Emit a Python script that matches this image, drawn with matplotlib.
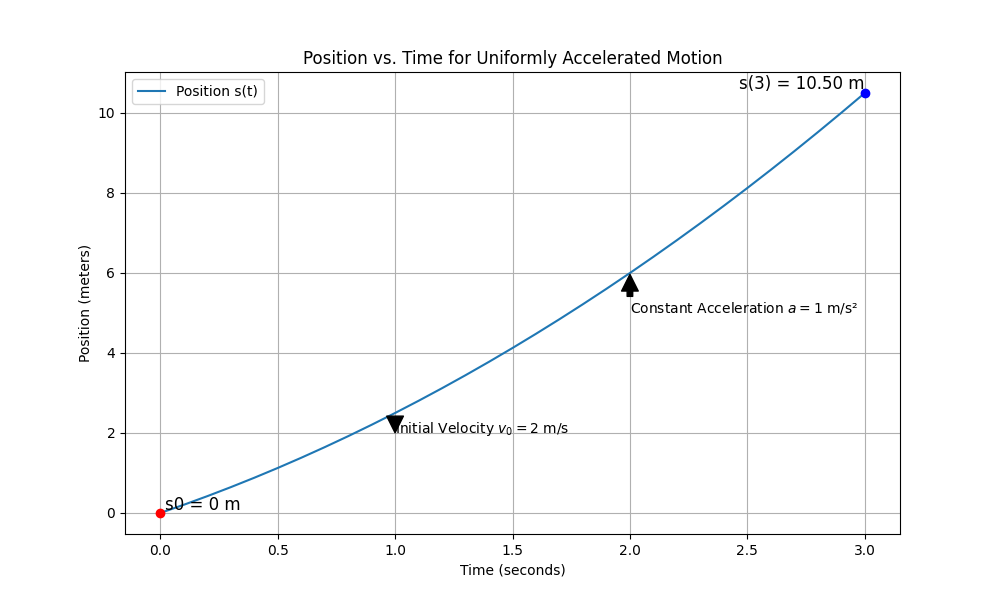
import numpy as np
import matplotlib
matplotlib.use('Agg')
import matplotlib.pyplot as plt

# time (s) and position (m)
t = [0.0, 0.1, 0.2, 0.3, 0.4, 0.5, 0.6, 0.7, 0.8, 0.9, 1.0,
     1.1, 1.2, 1.3, 1.4, 1.5, 1.6, 1.7, 1.8, 1.9, 2.0,
     2.1, 2.2, 2.3, 2.4, 2.5, 2.6, 2.7, 2.8, 2.9, 3.0]
s = [0.0, 0.205, 0.42, 0.645, 0.88, 1.125, 1.38, 1.645, 1.92, 2.205, 2.5,
     2.805, 3.12, 3.445, 3.78, 4.125, 4.48, 4.845, 5.22, 5.605, 6.0,
     6.405, 6.82, 7.245, 7.68, 8.125, 8.58, 9.045, 9.52, 10.005, 10.5]

fig, ax = plt.subplots(figsize=(10, 6), dpi=100)

ax.plot(t, s, label='Position s(t)')
ax.scatter([t[0]], [s[0]], color='red', zorder=5)
ax.scatter([t[-1]], [s[-1]], color='blue', zorder=5)

ax.text(t[0] + 0.02, s[0] + 0.07, 's0 = 0 m', fontsize=12)
ax.text(t[-1], s[-1], 's(3) = 10.50 m', fontsize=12, ha='right', va='bottom')

# annotations
ax.annotate('Initial Velocity $v_0 = 2$ m/s', xy=(1, 2), xytext=(1, 2),
            arrowprops=dict(facecolor='black', shrink=0.05))
ax.annotate('Constant Acceleration $a = 1$ m/s²', xy=(2, 6), xytext=(2, 5),
            arrowprops=dict(facecolor='black', shrink=0.05))

ax.set_title('Position vs. Time for Uniformly Accelerated Motion')
ax.set_xlabel('Time (seconds)')
ax.set_ylabel('Position (meters)')
ax.grid(True)
ax.legend(loc='upper left')

plt.savefig('out.png')
